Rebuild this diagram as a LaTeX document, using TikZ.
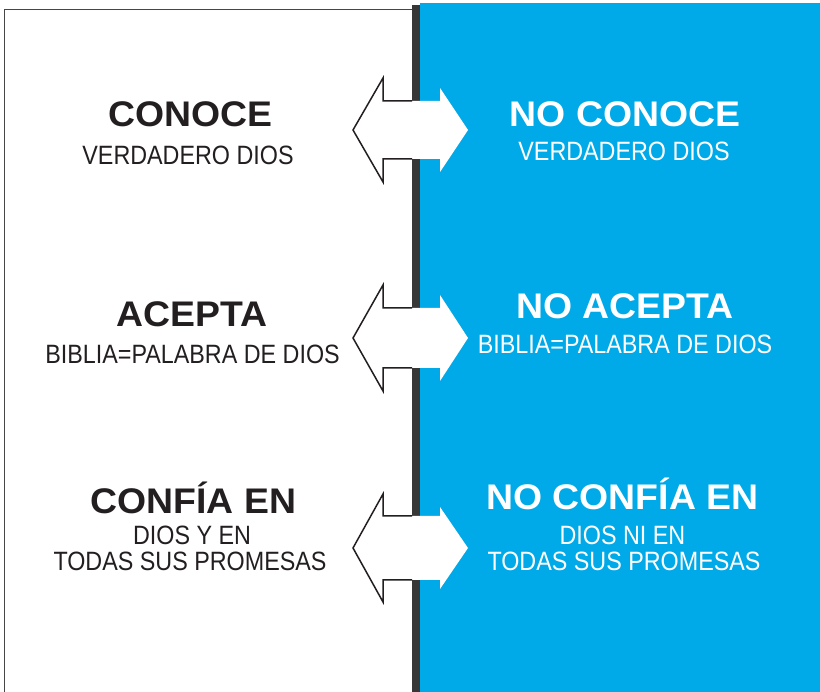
\documentclass[tikz,border=0pt]{standalone}
\usepackage{fontspec}
\setmainfont{Liberation Sans}
\newfontfamily\titlefont[FakeStretch=1.05]{Liberation Sans}
\newfontfamily\subfont[FakeStretch=0.88]{Liberation Sans}
\definecolor{skyblue}{RGB}{0,170,232}
\definecolor{ink}{RGB}{35,31,32}
\definecolor{divgray}{RGB}{55,55,55}
\definecolor{framegray}{RGB}{70,70,70}
\newcommand\rowarrows[4]{% #1 centre y, #2 shaft half, #3 left head half, #4 right head half
  \fill[white] (383,#1-#2) -- (440,#1-#2) -- (440,#1-#4) -- (468,#1) -- (440,#1+#4) -- (440,#1+#2) -- (383,#1+#2) -- cycle;
  \filldraw[leftarrow] (412,#1-#2) -- (383,#1-#2) -- (383,#1-#3) -- (353,#1) -- (383,#1+#3) -- (383,#1+#2) -- (412,#1+#2);
}
\begin{document}
\begin{tikzpicture}[x=1pt,y=-1pt,
  title/.style={anchor=base,inner sep=0pt,font=\titlefont\bfseries\fontsize{35.6}{36}\selectfont},
  sub/.style={anchor=base,inner sep=0pt,font=\subfont\fontsize{26.5}{27}\selectfont},
  leftarrow/.style={fill=white,draw=ink,line width=1.5pt,line join=miter},
  frame/.style={draw=framegray,line width=1.8pt}]
\useasboundingbox (0,0) rectangle (820,692);
\fill[white] (0,0) rectangle (820,692);
\fill[skyblue] (420,3) rectangle (820,692);
\fill[divgray] (412,5) rectangle (420,692);
\draw[frame] (4.5,692) -- (4.5,9.5) -- (412,9.5);

\rowarrows{130}{29}{52}{42}
\rowarrows{338}{30}{53}{43}
\rowarrows{548}{32}{54}{41}

% left column
\node[title,text=ink] (t1l) at (190.5,127) {CONOCE};
\node[sub,text=ink] (s1l) at (188,165) {VERDADERO DIOS};
\node[title,text=ink] (t2l) at (192,327) {ACEPTA};
\node[sub,text=ink] (s2l) at (192.5,364) {BIBLIA=PALABRA DE DIOS};
\node[title,text=ink] (t3l) at (193.5,514) {CONFÍA EN};
\node[sub,text=ink] (s3l) at (192,544) {DIOS Y EN};
\node[sub,text=ink] (u3l) at (190,570) {TODAS SUS PROMESAS};
% right column
\node[title,text=white] (t1r) at (625,127) {NO CONOCE};
\node[sub,text=white] (s1r) at (624,161) {VERDADERO DIOS};
\node[title,text=white] (t2r) at (625,319) {NO ACEPTA};
\node[sub,text=white] (s2r) at (625,354) {BIBLIA=PALABRA DE DIOS};
\node[title,text=white] (t3r) at (622.5,510) {NO CONFÍA EN};
\node[sub,text=white] (s3r) at (622.5,544) {DIOS NI EN};
\node[sub,text=white] (u3r) at (624,570) {TODAS SUS PROMESAS};
\end{tikzpicture}
\end{document}
